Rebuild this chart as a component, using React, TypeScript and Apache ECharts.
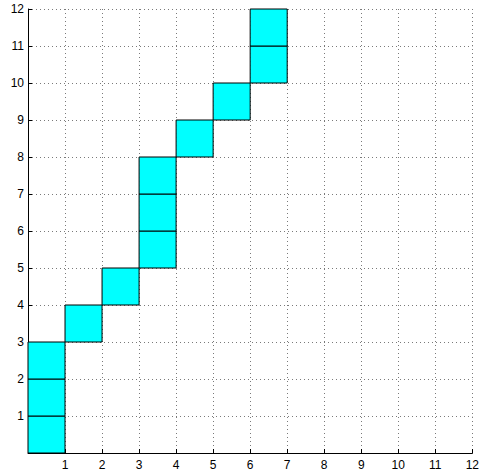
import React, { useEffect, useRef } from "react";
import * as echarts from "echarts";

const cellX = [0, 0, 0, 1, 2, 3, 3, 3, 4, 5, 6, 6];
const cellY = [0, 1, 2, 3, 4, 5, 6, 7, 8, 9, 10, 11];
const axisMin = 0;
const axisMax = 12;
const axisStep = 1;

export default function App() {
  const ref = useRef<HTMLDivElement>(null);
  useEffect(() => {
    if (!ref.current) return;
    const chart = echarts.init(ref.current, null, { renderer: "svg" });
    const data = cellX.map((x, i) => [x, cellY[i]]);
    const font = "'Liberation Sans', Arial, Helvetica, sans-serif";
    const axisCommon = {
      type: "value" as const,
      min: axisMin,
      max: axisMax,
      interval: axisStep,
      axisLine: { show: true, onZero: false, lineStyle: { color: "#000", width: 1 } },
      axisTick: { show: true, inside: true, length: 4, lineStyle: { color: "#000" } },
      splitLine: { show: true, lineStyle: { color: "#7a7a7a", type: [1, 3], width: 1 } },
      axisLabel: {
        color: "#000",
        fontSize: 12,
        fontFamily: font,
        formatter: (v: number) => (v === 0 ? "" : String(v)),
      },
    };
    chart.setOption({
      animation: false,
      backgroundColor: "#fff",
      grid: { left: 28, top: 9, right: 9, bottom: 20, containLabel: false },
      xAxis: { ...axisCommon, axisLabel: { ...axisCommon.axisLabel, margin: 6 } },
      yAxis: { ...axisCommon, axisLabel: { ...axisCommon.axisLabel, margin: 4 } },
      series: [
        {
          type: "custom",
          data,
          renderItem: (params: any, api: any) => {
            const x = api.value(0);
            const y = api.value(1);
            const p0 = api.coord([x, y + 1]);
            const p1 = api.coord([x + 1, y]);
            return {
              type: "rect",
              shape: { x: p0[0], y: p0[1], width: p1[0] - p0[0], height: p1[1] - p0[1] },
              style: { fill: "#00ffff", stroke: "#000", lineWidth: 1 },
            };
          },
          z: 3,
        },
      ],
    });
    return () => chart.dispose();
  }, []);
  return (
    <div
      ref={ref}
      style={{ position: "fixed", left: 0, top: 0, width: 482, height: 473, background: "#fff" }}
    />
  );
}
